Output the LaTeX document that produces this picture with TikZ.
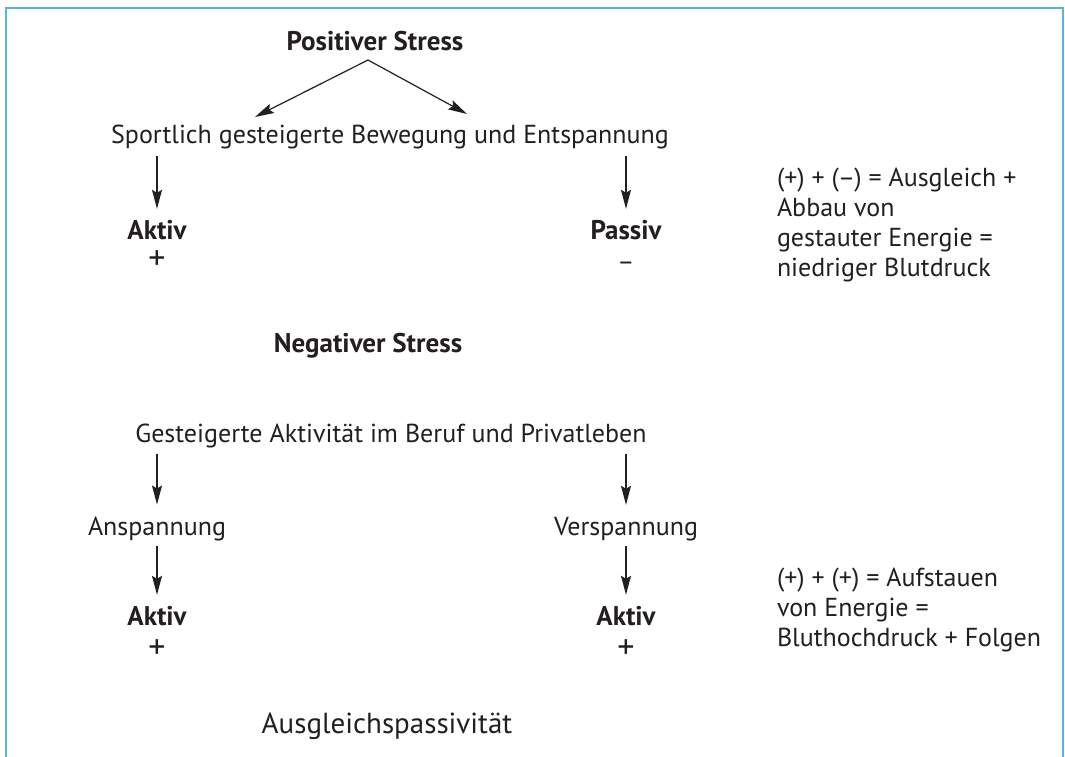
\documentclass[tikz,border=0pt]{standalone}
\usepackage{fontspec}
\setmainfont{PT Sans}
\usetikzlibrary{arrows.meta,calc}
\definecolor{framecol}{HTML}{5BB5D5}
\definecolor{txt}{HTML}{231F20}
\begin{document}
\begin{tikzpicture}[x=1pt,y=-1pt,
  every node/.style={inner sep=0pt,outer sep=0pt,text=txt,font=\fontsize{26}{30}\selectfont},
  lbl/.style={anchor=base},
  sign/.style={anchor=base,font=\fontsize{34}{34}\selectfont},
  bold/.style={anchor=base,font=\fontsize{27}{30}\selectfont\bfseries},
  note/.style={anchor=north west,align=left},
  arr/.style={draw=txt,line width=1.2pt,-{Stealth[length=19pt,width=10pt,inset=3pt]}},
]
\useasboundingbox (0,0) rectangle (1065,756);
\draw[framecol,line width=2.2pt] (6,760) -- (6,8) -- (1063,8) -- (1063,760);

% top part
\node[bold] (pos) at (375,50) {Positiver Stress};
\coordinate (apex) at (368,60);
\coordinate (tipL) at (255,117);
\coordinate (tipR) at (467,114);
\node[lbl] (sport) at (390,143) {Sportlich gesteigerte Bewegung und Entspannung};
\node[bold] (aktiv1) at (157,239) {Aktiv};
\node[sign] (plus1) at (157,269) {+};
\node[bold] (passiv) at (626,239) {Passiv};
\node[lbl] (minus1) at (626,270) {–};
\node[note] (note1) at (777,168) {(+) + (–) = Ausgleich +\\Abbau von\\gestauter Energie =\\niedriger Blutdruck};

\draw[arr] (apex) -- (tipL);
\draw[arr] (apex) -- (tipR);
\draw[arr,shorten <=7pt,shorten >=11pt] (aktiv1 |- sport.south) -- (aktiv1.north);
\draw[arr,shorten <=7pt,shorten >=11pt] (passiv |- sport.south) -- (passiv.north);

% bottom part
\node[bold] (neg) at (368,352) {Negativer Stress};
\node[lbl] (gest) at (391,442) {Gesteigerte Aktivität im Beruf und Privatleben};
\node[lbl] (ansp) at (157,535) {Anspannung};
\node[lbl] (versp) at (626,535) {Verspannung};
\node[bold] (aktiv2) at (157,625) {Aktiv};
\node[sign] (plus2) at (157,658) {+};
\node[bold] (aktiv3) at (626,625) {Aktiv};
\node[sign] (plus3) at (626,658) {+};
\node[note] (note2) at (777,568) {(+) + (+) = Aufstauen\\von Energie =\\Bluthochdruck + Folgen};
\node[lbl,font=\fontsize{29}{30}\selectfont] (ausg) at (387,733) {Ausgleichspassivität};

\draw[arr,shorten <=6pt,shorten >=12pt] (ansp |- gest.south) -- (ansp.north);
\draw[arr,shorten <=6pt,shorten >=12pt] (versp |- gest.south) -- (versp.north);
\draw[arr,shorten <=5pt,shorten >=11pt] (ansp.south) -- (aktiv2.north);
\draw[arr,shorten <=5pt,shorten >=11pt] (versp.south) -- (aktiv3.north);
\end{tikzpicture}
\end{document}
